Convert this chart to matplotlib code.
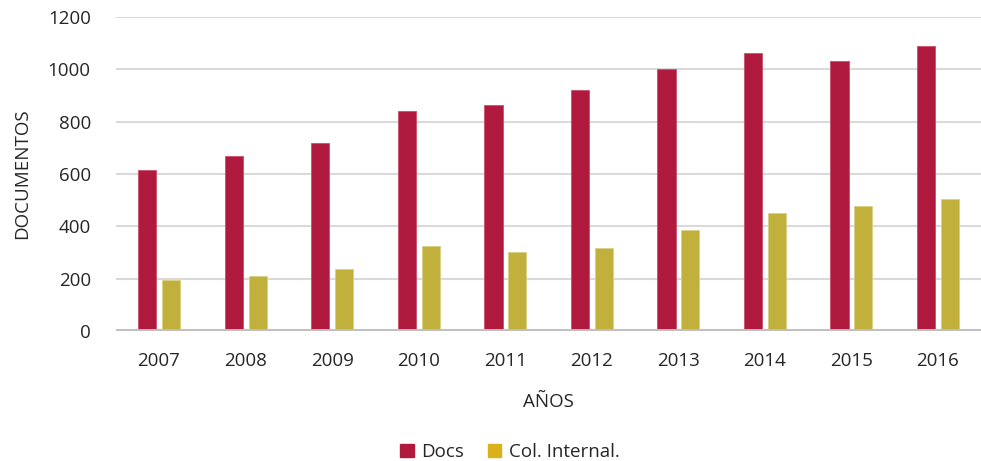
import numpy as np
import matplotlib
matplotlib.use('Agg')
import matplotlib.pyplot as plt

years = ['2007', '2008', '2009', '2010', '2011', '2012', '2013', '2014', '2015', '2016']
docs = [614, 668, 717, 840, 863, 920, 1000, 1061, 1031, 1088]
col_internal = [196, 211, 238, 324, 302, 316, 385, 450, 476, 503]

plt.rcParams['font.family'] = ['Open Sans', 'DejaVu Sans']
fs = 13.5

fig = plt.figure(figsize=(9.81, 4.61), dpi=100)
ax = fig.add_axes([0.118, 0.282, 0.882, 0.681])

x = np.arange(len(years))
w = 0.21
ax.bar(x - 0.135, docs, w, color='#B01A3E', edgecolor='#C8506A', linewidth=0.6,
       label='Docs', zorder=3)
ax.bar(x + 0.14, col_internal, w, color='#C1B03C', edgecolor='#D8CF86', linewidth=0.6,
       label='Col. Internal.', zorder=3)

ax.set_xlim(-0.5, len(years) - 0.5)
ax.set_ylim(0, 1200)
ax.set_yticks(range(0, 1201, 200))
ax.set_xticks(x)
ax.set_xticklabels(years)
ax.yaxis.grid(True, color='#D9D9D9', linewidth=1.5, zorder=0)
ax.axhline(0, color='#BFBFBF', linewidth=2.8, zorder=4)
for s in ax.spines.values():
    s.set_visible(False)
ax.tick_params(axis='both', length=0, labelsize=fs, colors='#262626')
ax.tick_params(axis='y', pad=18)
ax.tick_params(axis='x', pad=15)

ax.set_ylabel('DOCUMENTOS', fontsize=fs, color='#262626', labelpad=12)
ax.set_xlabel('AÑOS', fontsize=fs, color='#262626', labelpad=17)

handles = [plt.Rectangle((0, 0), 1, 1, color='#B01A3E'),
           plt.Rectangle((0, 0), 1, 1, color='#DAB11A')]
labels = ['Docs', 'Col. Internal.']
fig.legend(handles, labels, loc='center', bbox_to_anchor=(0.52, 0.02), ncol=2,
           frameon=False, fontsize=fs, handlelength=0.7, handleheight=0.7,
           handletextpad=0.4, columnspacing=1.3, labelcolor='#262626')

fig.savefig('out.png', dpi=100)
